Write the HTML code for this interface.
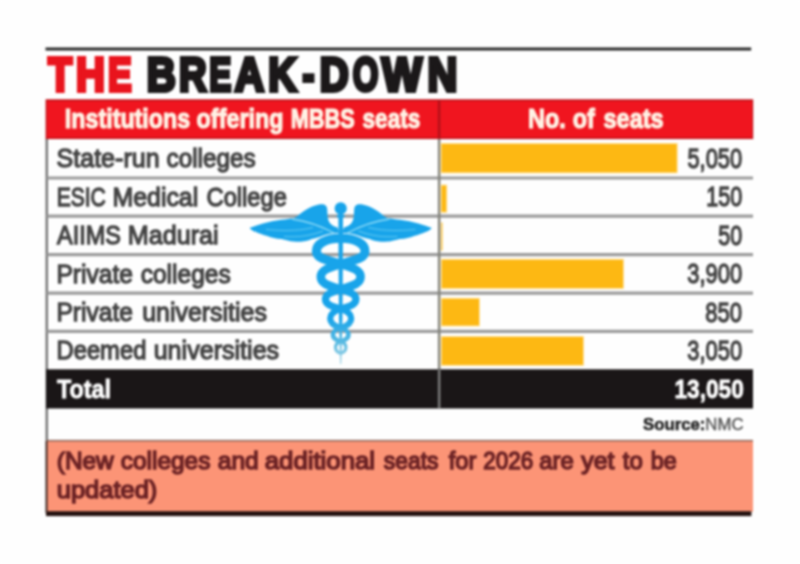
<!DOCTYPE html>
<html>
<head>
<meta charset="utf-8">
<title>The Break-Down</title>
<style>
html,body{margin:0;padding:0;}
body{width:800px;height:564px;background:#fefefe;overflow:hidden;font-family:"Liberation Sans",sans-serif;}
svg{display:block;position:absolute;left:0;top:0;filter:blur(0.9px);}
text{font-family:"Liberation Sans",sans-serif;}
.lab{font-size:26.1px;fill:#444444;stroke:#444444;stroke-width:1.3;}
.hd{font-size:26.4px;font-weight:bold;fill:#fff3e6;stroke:#fff3e6;stroke-width:1.0;}
.tot{font-size:26px;font-weight:bold;fill:#ffffff;stroke:#ffffff;stroke-width:0.8;}
.note{font-size:24.3px;fill:#6c2325;stroke:#6c2325;stroke-width:1.5;}
.rl{stroke:#9b9b9b;stroke-width:3.2;}
.bar{fill:#fdb813;stroke:#ffe3a0;stroke-width:1;}
</style>
</head>
<body>
<svg width="800" height="564" viewBox="0 0 800 564">
<defs>
<linearGradient id="bg" gradientUnits="userSpaceOnUse" x1="0" y1="200" x2="0" y2="364">
<stop offset="0" stop-color="#18a4ea"/>
<stop offset="0.72" stop-color="#18a4ea"/>
<stop offset="0.86" stop-color="#55b9e2"/>
<stop offset="1" stop-color="#a8d6e6"/>
</linearGradient>
</defs>
<rect x="0" y="0" width="800" height="564" fill="#fefefe"/>
<!-- top rule -->
<rect x="45.5" y="47.5" width="705.7" height="3" fill="#2a2a2a"/>
<!-- title -->
<g id="title" font-size="48.0" font-weight="bold" stroke-width="4.2" stroke-linejoin="miter">
<text transform="translate(48.35,91.3) scale(0.8117,1)" fill="#e9141d" stroke="#e9141d">T</text>
<text transform="translate(76.00,91.3) scale(0.8328,1)" fill="#e9141d" stroke="#e9141d">H</text>
<text transform="translate(107.93,91.3) scale(0.7391,1)" fill="#e9141d" stroke="#e9141d">E</text>
<text transform="translate(146.85,91.3) scale(0.8363,1)" fill="#1b1819" stroke="#1b1819">B</text>
<text transform="translate(178.88,91.3) scale(0.7955,1)" fill="#1b1819" stroke="#1b1819">R</text>
<text transform="translate(209.28,91.3) scale(0.6894,1)" fill="#1b1819" stroke="#1b1819">E</text>
<text transform="translate(234.83,91.3) scale(0.8468,1)" fill="#1b1819" stroke="#1b1819">A</text>
<text transform="translate(268.16,91.3) scale(0.8204,1)" fill="#1b1819" stroke="#1b1819">K</text>
<text transform="translate(302.52,91.3) scale(0.7418,1)" fill="#1b1819" stroke="#1b1819">-</text>
<text transform="translate(319.65,91.3) scale(0.8363,1)" fill="#1b1819" stroke="#1b1819">D</text>
<text transform="translate(352.66,91.3) scale(0.6888,1)" fill="#1b1819" stroke="#1b1819">O</text>
<text transform="translate(381.87,91.3) scale(0.8884,1)" fill="#1b1819" stroke="#1b1819">W</text>
<text transform="translate(427.62,91.3) scale(0.8614,1)" fill="#1b1819" stroke="#1b1819">N</text>
</g>
<!-- red header -->
<rect x="45.6" y="99.3" width="707.6" height="40.2" fill="#c2121a"/>
<rect x="47" y="101.1" width="705" height="36.4" fill="#f0151f"/>
<rect x="437.9" y="100" width="2.4" height="39" fill="#b3111a"/>
<!-- header text -->
<g class="hd" style="font-size:27.4px;stroke-width:1.2">
<text transform="translate(64.81,128.1) scale(0.8495,1)">Institutions</text>
<text transform="translate(196.56,128.1) scale(0.8540,1)">offering</text>
<text transform="translate(290.68,128.1) scale(0.7943,1)">MBBS</text>
<text transform="translate(362.50,128.1) scale(0.8251,1)">seats</text>
<text transform="translate(528.06,128.1) scale(0.8569,1)">No.</text>
<text transform="translate(572.66,128.1) scale(0.8540,1)">of</text>
<text transform="translate(603.52,128.1) scale(0.8589,1)">seats</text>
</g>
<!-- end header text -->
<!-- white table body -->
<rect x="46" y="139.1" width="707" height="301" fill="#fefefe"/>
<!-- left border -->
<rect x="45.6" y="139" width="2.4" height="302" fill="#747474"/>
<!-- row lines -->
<line class="rl" x1="47" x2="753" y1="178.0" y2="178.0"/>
<line class="rl" x1="47" x2="753" y1="216.1" y2="216.1"/>
<line class="rl" x1="47" x2="753" y1="254.6" y2="254.6"/>
<line class="rl" x1="47" x2="753" y1="293.1" y2="293.1"/>
<line class="rl" x1="47" x2="753" y1="331.3" y2="331.3"/>
<!-- col divider -->
<rect x="437.9" y="139" width="2.5" height="231" fill="#84847c"/>
<!-- bars -->
<rect class="bar" x="441" y="143.4" width="236.2" height="29.5"/>
<rect class="bar" x="441" y="185" width="5.8" height="27.3"/>
<rect x="441" y="222.5" width="1.6" height="28" fill="#fdb813" opacity="0.75"/>
<rect class="bar" x="441.2" y="259.2" width="182.4" height="29.4"/>
<rect class="bar" x="441.2" y="298.2" width="38.3" height="27.8"/>
<rect class="bar" x="441.2" y="336.4" width="142.4" height="29"/>
<!-- labels -->
<g class="lab">
<text transform="translate(56.56,167.4) scale(0.9598,1)">State-run</text>
<text transform="translate(166.57,167.4) scale(0.9308,1)">colleges</text>
<text transform="translate(56.66,205.8) scale(0.8061,1)">ESIC</text>
<text transform="translate(112.46,205.8) scale(0.9540,1)">Medical</text>
<text transform="translate(206.58,205.8) scale(0.9074,1)">College</text>
<text transform="translate(57.08,244.2) scale(0.8966,1)">AIIMS</text>
<text transform="translate(127.70,244.2) scale(0.9647,1)">Madurai</text>
<text transform="translate(56.48,282.6) scale(0.9419,1)">Private</text>
<text transform="translate(140.67,282.6) scale(0.9402,1)">colleges</text>
<text transform="translate(56.48,321.0) scale(0.9419,1)">Private</text>
<text transform="translate(142.17,321.0) scale(0.9559,1)">universities</text>
<text transform="translate(56.52,359.4) scale(0.9111,1)">Deemed</text>
<text transform="translate(153.66,359.4) scale(0.9616,1)">universities</text>
</g>
<!-- numbers -->
<g class="lab" style="font-size:27.1px">
<text transform="translate(687.47,167.9) scale(0.8062,1)">5,050</text>
<text transform="translate(706.18,206.3) scale(0.7955,1)">150</text>
<text transform="translate(718.22,244.7) scale(0.7936,1)">50</text>
<text transform="translate(687.22,283.1) scale(0.8099,1)">3,900</text>
<text transform="translate(705.31,321.5) scale(0.8143,1)">850</text>
<text transform="translate(687.32,359.9) scale(0.8084,1)">3,050</text>
</g>
<!-- total row -->
<rect x="46" y="369.3" width="707" height="39.2" fill="#1a1617"/>
<rect x="437.9" y="369.6" width="2.5" height="38.8" fill="#7b7b7b"/>
<text id="tot" class="tot" x="57" y="398" textLength="54" lengthAdjust="spacingAndGlyphs">Total</text>
<text id="totn" class="tot" x="674.4" y="398.4" textLength="69.4" lengthAdjust="spacingAndGlyphs">13,050</text>
<!-- source -->
<text id="src" x="643" y="430" font-size="16.6" textLength="100.5" lengthAdjust="spacingAndGlyphs" fill="#585858"><tspan font-weight="bold" fill="#262626" stroke="#262626" stroke-width="0.55">Source:</tspan><tspan stroke="#555" stroke-width="0.35" fill="#555">NMC</tspan></text>
<!-- note -->
<rect x="46" y="439.9" width="707" height="2.4" fill="#8a675d"/>
<rect x="46" y="441.4" width="707" height="70.4" fill="#fc9476"/>
<rect x="46" y="511.2" width="705.4" height="4.9" fill="#241210"/>
<rect x="45.5" y="441" width="2" height="72" fill="#3e2722"/>
<!-- note text -->
<g class="note">
<text transform="translate(56.75,468.8) scale(1.0061,1)">(New</text>
<text transform="translate(120.75,468.8) scale(1.0056,1)">colleges</text>
<text transform="translate(217.75,468.8) scale(1.0120,1)">and</text>
<text transform="translate(264.73,468.8) scale(1.0609,1)">additional</text>
<text transform="translate(383.71,468.8) scale(0.9424,1)">seats</text>
<text transform="translate(448.73,468.8) scale(0.9744,1)">for</text>
<text transform="translate(483.37,468.8) scale(0.9253,1)">2026</text>
<text transform="translate(539.36,468.8) scale(0.9800,1)">are</text>
<text transform="translate(581.17,468.8) scale(1.0304,1)">yet</text>
<text transform="translate(622.74,468.8) scale(0.9882,1)">to</text>
<text transform="translate(650.76,468.8) scale(0.9625,1)">be</text>
<text transform="translate(56.74,497.5) scale(1.0490,1)">updated)</text>
</g>
<!-- end note text -->
<!-- caduceus -->
<g id="cad" fill="none" stroke="url(#bg)" stroke-linecap="round">
<path d="M340.7,238.3 C325.6,238.3 316.4,244.0 316.4,251.2 C316.4,258.5 326.3,259.8 340.7,264.2" stroke-width="9.0"/>
<path d="M340.7,238.3 C355.8,238.3 365.0,244.0 365.0,251.2 C365.0,258.5 355.1,259.8 340.7,264.2" stroke-width="9.0"/>
<path d="M340.7,264.2 C328.9,267.8 320.8,269.7 320.8,276.8 C320.8,283.9 328.9,285.8 340.7,289.4" stroke-width="8.5"/>
<path d="M340.7,264.2 C352.5,267.8 360.6,269.7 360.6,276.8 C360.6,283.9 352.5,285.8 340.7,289.4" stroke-width="8.5"/>
<path d="M340.7,289.4 C331.7,292.2 325.5,293.7 325.5,299.2 C325.5,304.7 331.7,306.2 340.7,309.0" stroke-width="7.2"/>
<path d="M340.7,289.4 C349.7,292.2 355.9,293.7 355.9,299.2 C355.9,304.7 349.7,306.2 340.7,309.0" stroke-width="7.2"/>
<path d="M340.7,309.0 C334.5,310.9 330.2,313.2 330.2,318.4 C330.2,323.7 334.5,326.0 340.7,327.9" stroke-width="6.2"/>
<path d="M340.7,309.0 C346.9,310.9 351.2,313.2 351.2,318.4 C351.2,323.7 346.9,326.0 340.7,327.9" stroke-width="6.2"/>
<path d="M340.7,327.9 C336.1,329.3 332.9,330.9 332.9,334.8 C332.9,338.6 336.1,340.2 340.7,341.6" stroke-width="4.6"/>
<path d="M340.7,327.9 C345.3,329.3 348.5,330.9 348.5,334.8 C348.5,338.6 345.3,340.2 340.7,341.6" stroke-width="4.6"/>
<path d="M340.7,341.6 C337.6,342.5 335.5,344.2 335.5,347.4 C335.5,350.6 337.6,352.3 340.7,353.2" stroke-width="3.2"/>
<path d="M340.7,341.6 C343.8,342.5 345.9,344.2 345.9,347.4 C345.9,350.6 343.8,352.3 340.7,353.2" stroke-width="3.2"/>
</g>
<g fill="#18a4ea">
<path d="M249.6,227.9 C252,227 254.5,226 256.5,225.4 C261,224 265,222.8 269,221.9 C273,221 277,220.4 281.5,219.75 C286,219.2 290,218.8 294,217.9 C296,217.2 297.8,216 299,214.75 C300.8,213.2 302.3,212 304,211 C308,208.5 311,206.5 315.2,205.4 C319,204.3 322,204.0 324,204.5 C326,205.2 327,207 327.1,208.5 C327.5,211.5 327.3,214.5 327.75,217.25 C328.2,220 329,222 330.25,223.5 C332,225.5 334.5,226.5 337.5,227.5 L339.5,233 C334,232.5 328,233.5 322,236 C319,237.4 315,238.2 311.5,239.1 C309,240.6 306.5,241.1 304,241.25 C300,242 297,242 294,241.6 C291.5,241.2 289.5,240.9 287.75,240.4 C285.5,240 283.5,239.6 281.5,239.1 C278.5,238.8 276,238.4 274,237.9 C271,237.3 268.5,236.5 266.5,235.75 C262.5,234.6 259.5,233.5 256.5,232.25 C253.5,231 251,229.8 249.6,227.9 Z"/><path d="M292,219 C303,220.5 318,224.5 334,233" fill="none" stroke="#8edbf7" stroke-width="1.3"/><path d="M266,229.5 C283,231 300,231 313,227.5" fill="none" stroke="#62c9f2" stroke-width="1.1"/><path d="M284,236.5 C298,237.5 311,236 323,231" fill="none" stroke="#62c9f2" stroke-width="1.1"/>
<g transform="translate(681.4,0) scale(-1,1)"><path d="M249.6,227.9 C252,227 254.5,226 256.5,225.4 C261,224 265,222.8 269,221.9 C273,221 277,220.4 281.5,219.75 C286,219.2 290,218.8 294,217.9 C296,217.2 297.8,216 299,214.75 C300.8,213.2 302.3,212 304,211 C308,208.5 311,206.5 315.2,205.4 C319,204.3 322,204.0 324,204.5 C326,205.2 327,207 327.1,208.5 C327.5,211.5 327.3,214.5 327.75,217.25 C328.2,220 329,222 330.25,223.5 C332,225.5 334.5,226.5 337.5,227.5 L339.5,233 C334,232.5 328,233.5 322,236 C319,237.4 315,238.2 311.5,239.1 C309,240.6 306.5,241.1 304,241.25 C300,242 297,242 294,241.6 C291.5,241.2 289.5,240.9 287.75,240.4 C285.5,240 283.5,239.6 281.5,239.1 C278.5,238.8 276,238.4 274,237.9 C271,237.3 268.5,236.5 266.5,235.75 C262.5,234.6 259.5,233.5 256.5,232.25 C253.5,231 251,229.8 249.6,227.9 Z"/><path d="M292,219 C303,220.5 318,224.5 334,233" fill="none" stroke="#8edbf7" stroke-width="1.3"/><path d="M266,229.5 C283,231 300,231 313,227.5" fill="none" stroke="#62c9f2" stroke-width="1.1"/><path d="M284,236.5 C298,237.5 311,236 323,231" fill="none" stroke="#62c9f2" stroke-width="1.1"/></g>
<circle cx="340.7" cy="208.4" r="6.1"/>
<ellipse cx="340.7" cy="216" rx="4.3" ry="1.6"/>
</g>
<path d="M338.4,213 L343.0,213 L342.8,270 L342.4,320 L341.7,345 L341.3,364 L340.1,364 L339.7,345 L339.0,320 L338.6,270 Z" fill="url(#bg)"/>
</svg>
</body>
</html>
